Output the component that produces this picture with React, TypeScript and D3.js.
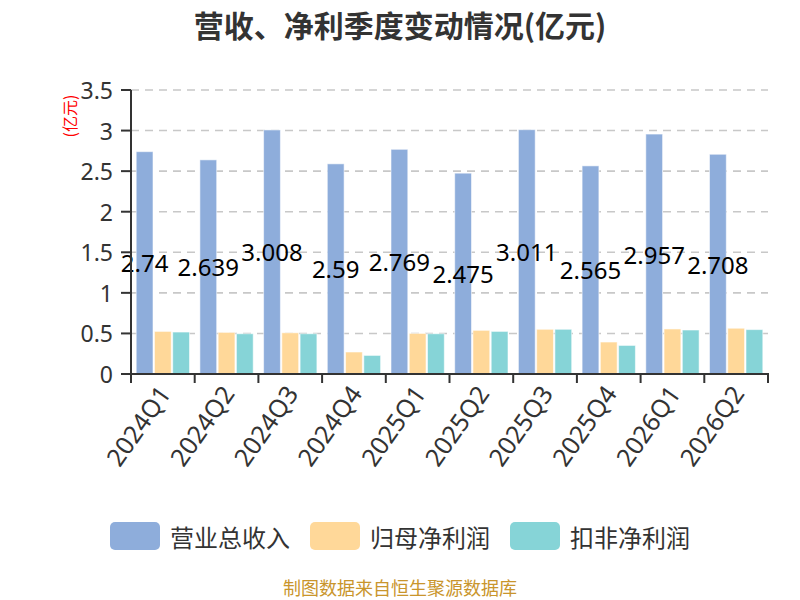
import React from "react";
import * as d3 from "d3";

const categories = ["2024Q1", "2024Q2", "2024Q3", "2024Q4", "2025Q1", "2025Q2", "2025Q3", "2025Q4", "2026Q1", "2026Q2"];
const revenue = [2.74, 2.639, 3.008, 2.59, 2.769, 2.475, 3.011, 2.565, 2.957, 2.708];
const netProfit = [0.525, 0.513, 0.508, 0.271, 0.5, 0.538, 0.551, 0.394, 0.555, 0.564];
const deductedProfit = [0.517, 0.496, 0.496, 0.229, 0.496, 0.525, 0.551, 0.352, 0.542, 0.547];
const seriesNames = ["营业总收入", "归母净利润", "扣非净利润"];
const seriesColors = ["#8eaddb", "#ffd899", "#86d4d7"];
const yTicks = [0, 0.5, 1, 1.5, 2, 2.5, 3, 3.5];
const yTickLabels = ["0", "0.5", "1", "1.5", "2", "2.5", "3", "3.5"];

const W = 800;
const H = 600;
const left = 131;
const right = 768;
const top = 90;
const bottom = 374;
const font = "'Noto Sans', 'Noto Sans CJK SC', sans-serif";
const cjk = "'Noto Sans CJK SC', 'Noto Sans', sans-serif";

export default function App() {
  const x = d3.scaleBand<string>().domain(categories).range([left, right]).padding(0);
  const inner = d3
    .scaleBand<string>()
    .domain(seriesNames)
    .range([5.2, x.bandwidth() - 5.2])
    .paddingInner(0.08)
    .paddingOuter(0);
  const y = d3.scaleLinear().domain([0, 3.5]).range([bottom, top]);
  const data = [revenue, netProfit, deductedProfit];
  const boundaries = [...categories.map((c) => x(c) as number), right];

  return (
    <svg width={W} height={H} style={{ position: "absolute", left: 0, top: 0, background: "#fff" }}>
      <text x={400} y={24} textAnchor="middle" dominantBaseline="central" fontFamily={cjk} fontWeight="bold" fontSize={30} fill="#333">
        营收、净利季度变动情况(亿元)
      </text>

      {/* grid lines */}
      {yTicks.slice(1).map((t) => (
        <line key={t} x1={left} x2={right} y1={y(t)} y2={y(t)} stroke="#c8c8c8" strokeWidth={1.6} strokeDasharray="8,6" />
      ))}

      {/* bars */}
      {categories.map((c, i) => (
        <g key={c}>
          {data.map((arr, s) => {
            const bx = (x(c) as number) + (inner(seriesNames[s]) as number);
            return (
              <rect
                key={s}
                x={bx}
                y={y(arr[i])}
                width={inner.bandwidth()}
                height={y(0) - y(arr[i])}
                fill={seriesColors[s]}
                stroke="#ffffff"
                strokeOpacity={0.55}
                strokeWidth={1}
              />
            );
          })}
        </g>
      ))}

      {/* revenue labels */}
      {categories.map((c, i) => {
        const bx = (x(c) as number) + (inner(seriesNames[0]) as number) + inner.bandwidth() / 2;
        return (
          <text key={c} x={bx} y={(y(revenue[i]) + y(0)) / 2} textAnchor="middle" dominantBaseline="central" fontFamily={font} fontSize={24} fill="#000">
            {revenue[i]}
          </text>
        );
      })}

      {/* y axis */}
      <line x1={left} x2={left} y1={top} y2={bottom + 1} stroke="#333" strokeWidth={2} />
      {yTicks.map((t, i) => (
        <g key={t}>
          <line x1={left - 10} x2={left} y1={y(t)} y2={y(t)} stroke="#333" strokeWidth={2} />
          <text x={113} y={y(t)} textAnchor="end" dominantBaseline="central" fontFamily={font} fontSize={23} fill="#333">
            {yTickLabels[i]}
          </text>
        </g>
      ))}
      <text
        transform={`translate(69,116) rotate(-90)`}
        textAnchor="middle"
        dominantBaseline="central"
        fontFamily={cjk}
        fontSize={16}
        fill="#ff0000"
      >
        (亿元)
      </text>

      {/* x axis */}
      <line x1={left - 1} x2={right + 1} y1={bottom} y2={bottom} stroke="#333" strokeWidth={2} />
      {boundaries.map((b, i) => (
        <line key={i} x1={b} x2={b} y1={bottom} y2={bottom + 9} stroke="#333" strokeWidth={2} />
      ))}
      {categories.map((c) => {
        const cx = (x(c) as number) + x.bandwidth() / 2 + 1;
        return (
          <text
            key={c}
            transform={`translate(${cx},${bottom + 14}) rotate(-55)`}
            textAnchor="end"
            dominantBaseline="central"
            fontFamily={font}
            fontSize={25}
            fill="#333"
          >
            {c}
          </text>
        );
      })}

      {/* legend */}
      {seriesNames.map((n, i) => {
        const lx = 110 + i * 200;
        return (
          <g key={n}>
            <rect x={lx} y={522} width={50} height={28} rx={5} ry={5} fill={seriesColors[i]} />
            <text x={lx + 60} y={536} dominantBaseline="central" fontFamily={cjk} fontSize={24} fill="#333">
              {n}
            </text>
          </g>
        );
      })}

      <text x={400} y={587} textAnchor="middle" dominantBaseline="central" fontFamily={cjk} fontSize={18} fill="#c9952c">
        制图数据来自恒生聚源数据库
      </text>
    </svg>
  );
}
